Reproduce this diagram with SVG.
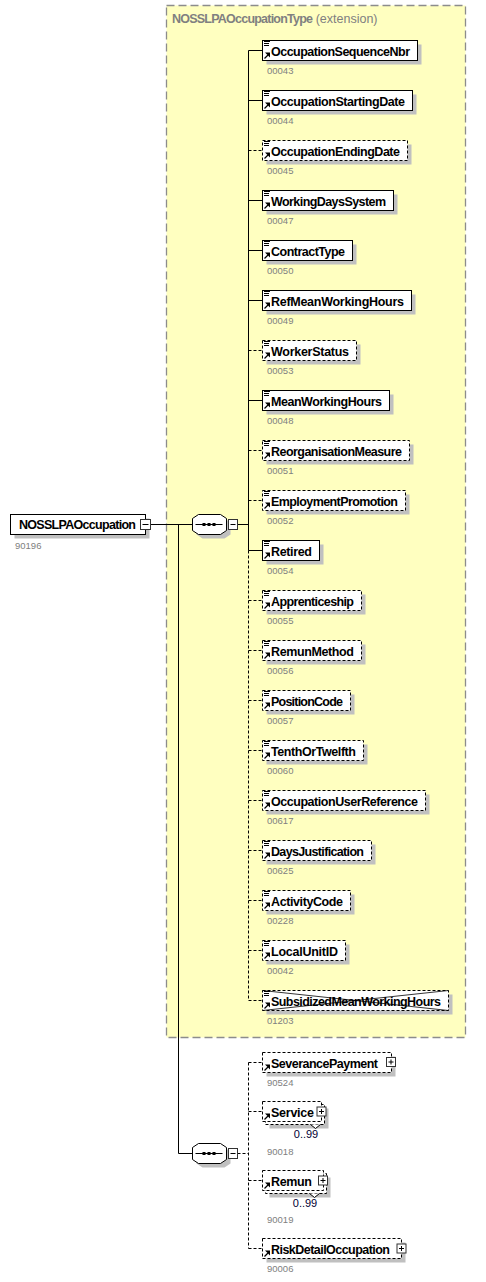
<svg xmlns="http://www.w3.org/2000/svg" xmlns:xlink="http://www.w3.org/1999/xlink" width="486" height="1282" viewBox="0 0 486 1282">
<style>
.bg{fill:#fff}
.ext{fill:#ffffc0;stroke:#8c8c8c;stroke-width:1.3;stroke-dasharray:8,4}
.box{fill:#fff;stroke:#000;stroke-width:1}
.opt{stroke-dasharray:3,2}
.sh{fill:#c0c0c0}
.name{font-family:"Liberation Sans",Arial,sans-serif;font-weight:bold;font-size:12.5px;fill:#000}
.cap{font-family:"Liberation Sans",Arial,sans-serif;font-size:9.5px;fill:#808080}
.card{font-family:"Liberation Sans",Arial,sans-serif;font-size:11px;fill:#000033;text-anchor:middle}
.title{font-family:"Liberation Sans",Arial,sans-serif;font-size:12.5px;fill:#808080}
.ln{stroke:#000;stroke-width:1;fill:none}
.dl{stroke:#000;stroke-width:1;fill:none;stroke-dasharray:3,2}
.pm{fill:#fff;stroke:#333;stroke-width:1}
</style>
<defs>
<g id="icoL"><path d="M1.5,1H7.5M1.5,3H6.5M1.5,5H6.5" stroke="#000" stroke-width="1"/></g>
<g id="icoA"><path d="M2,18 L5.5,14.5" stroke="#000" stroke-width="1.3"/><polygon points="7.5,12 7.5,17 2.5,12" fill="#000"/></g>
<g id="seqInner"><path d="M3,10 H30" stroke="#000" stroke-width="1"/><rect x="10" y="8.5" width="3" height="3" fill="#000"/><rect x="15" y="8.5" width="3" height="3" fill="#000"/><rect x="20" y="8.5" width="3" height="3" fill="#000"/></g>
<polygon id="oct" points="0,4 6,0 28,0 34,4 34,16 28,20 6,20 0,16"/>
</defs>
<rect class="bg" x="0" y="0" width="486" height="1282"/>

<g id="extension">
<rect class="ext" x="166.5" y="5.5" width="299" height="1032"/>
<text class="title" x="172" y="23"><tspan font-weight="bold" textLength="141">NOSSLPAOccupationType</tspan><tspan> (extension)</tspan></text>
</g>

<g id="connectors">
<path class="ln" d="M150.5,524.5 H192.5"/>
<path class="ln" d="M178.5,524.5 V1153.5 H192.5"/>
<path class="ln" d="M226.5,524.5 H228.5 M237.5,524.5 H248.5"/>
<path class="ln" d="M248.5,50.5 V550.5"/>
<path class="dl" d="M248.5,550.5 V1000.5"/>
<path class="ln" d="M248.5,50.5H262.5M248.5,100.5H262.5M248.5,200.5H262.5M248.5,250.5H262.5M248.5,300.5H262.5M248.5,400.5H262.5M248.5,550.5H262.5"/>
<path class="dl" d="M248.5,150.5H262.5M248.5,350.5H262.5M248.5,450.5H262.5M248.5,500.5H262.5M248.5,600.5H262.5M248.5,650.5H262.5M248.5,700.5H262.5M248.5,750.5H262.5M248.5,800.5H262.5M248.5,850.5H262.5M248.5,900.5H262.5M248.5,950.5H262.5M248.5,1000.5H262.5"/>
<path class="ln" d="M226.5,1153.5 H228.5"/>
<path class="dl" d="M237.5,1153.5 H248.5 M248.5,1062.5 V1248.5 M248.5,1062.5H262.5M248.5,1111.5H262.5M248.5,1180.5H262.5M248.5,1248.5H262.5"/>
</g>

<g id="root">
<rect class="sh" x="14.5" y="518.5" width="135" height="20"/>
<rect class="box" x="10.5" y="514.5" width="135" height="20"/>
<text class="name" x="19" y="529" textLength="117">NOSSLPAOccupation</text>
<rect class="pm" x="140.5" y="519.5" width="10" height="10"/>
<path class="ln" d="M142.5,524.5H148.5"/>
<text class="cap" x="15" y="548.5">90196</text>
</g>

<g id="seq1">
<use href="#oct" x="196.5" y="518.5" class="sh"/>
<use href="#oct" x="192.5" y="514.5" fill="#fff" stroke="#000"/>
<use href="#seqInner" x="192.5" y="514.5"/>
<rect class="pm" x="228.5" y="519.5" width="9" height="10"/>
<path class="ln" d="M230.5,524.5H235.5"/>
</g>

<g id="seq2">
<use href="#oct" x="196.5" y="1147.5" class="sh"/>
<use href="#oct" x="192.5" y="1143.5" fill="#fff" stroke="#000"/>
<use href="#seqInner" x="192.5" y="1143.5"/>
<rect class="pm" x="228.5" y="1148.5" width="9" height="10"/>
<path class="ln" d="M230.5,1153.5H235.5"/>
</g>

<g id="e1"><rect class="sh" x="266.5" y="44.5" width="155" height="20"/><rect class="box" x="262.5" y="40.5" width="155" height="20"/><use href="#icoL" x="262.5" y="40.5"/><use href="#icoA" x="262.5" y="40.5"/><text class="name" x="271" y="55.5" textLength="139">OccupationSequenceNbr</text><text class="cap" x="267" y="74">00043</text></g>
<g id="e2"><rect class="sh" x="266.5" y="94.5" width="150" height="20"/><rect class="box" x="262.5" y="90.5" width="150" height="20"/><use href="#icoL" x="262.5" y="90.5"/><use href="#icoA" x="262.5" y="90.5"/><text class="name" x="271" y="105.5" textLength="134">OccupationStartingDate</text><text class="cap" x="267" y="124">00044</text></g>
<g id="e3"><rect class="sh" x="266.5" y="144.5" width="145" height="20"/><rect class="box opt" x="262.5" y="140.5" width="145" height="20"/><use href="#icoL" x="262.5" y="140.5"/><use href="#icoA" x="262.5" y="140.5"/><text class="name" x="271" y="155.5" textLength="129">OccupationEndingDate</text><text class="cap" x="267" y="174">00045</text></g>
<g id="e4"><rect class="sh" x="266.5" y="194.5" width="131" height="20"/><rect class="box" x="262.5" y="190.5" width="131" height="20"/><use href="#icoL" x="262.5" y="190.5"/><use href="#icoA" x="262.5" y="190.5"/><text class="name" x="271" y="205.5" textLength="115">WorkingDaysSystem</text><text class="cap" x="267" y="224">00047</text></g>
<g id="e5"><rect class="sh" x="266.5" y="244.5" width="90" height="20"/><rect class="box" x="262.5" y="240.5" width="90" height="20"/><use href="#icoL" x="262.5" y="240.5"/><use href="#icoA" x="262.5" y="240.5"/><text class="name" x="271" y="255.5" textLength="74">ContractType</text><text class="cap" x="267" y="274">00050</text></g>
<g id="e6"><rect class="sh" x="266.5" y="294.5" width="149" height="20"/><rect class="box" x="262.5" y="290.5" width="149" height="20"/><use href="#icoL" x="262.5" y="290.5"/><use href="#icoA" x="262.5" y="290.5"/><text class="name" x="271" y="305.5" textLength="133">RefMeanWorkingHours</text><text class="cap" x="267" y="324">00049</text></g>
<g id="e7"><rect class="sh" x="266.5" y="344.5" width="94" height="20"/><rect class="box opt" x="262.5" y="340.5" width="94" height="20"/><use href="#icoL" x="262.5" y="340.5"/><use href="#icoA" x="262.5" y="340.5"/><text class="name" x="271" y="355.5" textLength="78">WorkerStatus</text><text class="cap" x="267" y="374">00053</text></g>
<g id="e8"><rect class="sh" x="266.5" y="394.5" width="127" height="20"/><rect class="box" x="262.5" y="390.5" width="127" height="20"/><use href="#icoL" x="262.5" y="390.5"/><use href="#icoA" x="262.5" y="390.5"/><text class="name" x="271" y="405.5" textLength="111">MeanWorkingHours</text><text class="cap" x="267" y="424">00048</text></g>
<g id="e9"><rect class="sh" x="266.5" y="444.5" width="147" height="20"/><rect class="box opt" x="262.5" y="440.5" width="147" height="20"/><use href="#icoL" x="262.5" y="440.5"/><use href="#icoA" x="262.5" y="440.5"/><text class="name" x="271" y="455.5" textLength="131">ReorganisationMeasure</text><text class="cap" x="267" y="474">00051</text></g>
<g id="e10"><rect class="sh" x="266.5" y="494.5" width="143" height="20"/><rect class="box opt" x="262.5" y="490.5" width="143" height="20"/><use href="#icoL" x="262.5" y="490.5"/><use href="#icoA" x="262.5" y="490.5"/><text class="name" x="271" y="505.5" textLength="127">EmploymentPromotion</text><text class="cap" x="267" y="524">00052</text></g>
<g id="e11"><rect class="sh" x="266.5" y="544.5" width="57" height="20"/><rect class="box" x="262.5" y="540.5" width="57" height="20"/><use href="#icoL" x="262.5" y="540.5"/><use href="#icoA" x="262.5" y="540.5"/><text class="name" x="271" y="555.5" textLength="41">Retired</text><text class="cap" x="267" y="574">00054</text></g>
<g id="e12"><rect class="sh" x="266.5" y="594.5" width="99" height="20"/><rect class="box opt" x="262.5" y="590.5" width="99" height="20"/><use href="#icoL" x="262.5" y="590.5"/><use href="#icoA" x="262.5" y="590.5"/><text class="name" x="271" y="605.5" textLength="83">Apprenticeship</text><text class="cap" x="267" y="624">00055</text></g>
<g id="e13"><rect class="sh" x="266.5" y="644.5" width="99" height="20"/><rect class="box opt" x="262.5" y="640.5" width="99" height="20"/><use href="#icoL" x="262.5" y="640.5"/><use href="#icoA" x="262.5" y="640.5"/><text class="name" x="271" y="655.5" textLength="83">RemunMethod</text><text class="cap" x="267" y="674">00056</text></g>
<g id="e14"><rect class="sh" x="266.5" y="694.5" width="88" height="20"/><rect class="box opt" x="262.5" y="690.5" width="88" height="20"/><use href="#icoL" x="262.5" y="690.5"/><use href="#icoA" x="262.5" y="690.5"/><text class="name" x="271" y="705.5" textLength="72">PositionCode</text><text class="cap" x="267" y="724">00057</text></g>
<g id="e15"><rect class="sh" x="266.5" y="744.5" width="101" height="20"/><rect class="box opt" x="262.5" y="740.5" width="101" height="20"/><use href="#icoL" x="262.5" y="740.5"/><use href="#icoA" x="262.5" y="740.5"/><text class="name" x="271" y="755.5" textLength="85">TenthOrTwelfth</text><text class="cap" x="267" y="774">00060</text></g>
<g id="e16"><rect class="sh" x="266.5" y="794.5" width="163" height="20"/><rect class="box opt" x="262.5" y="790.5" width="163" height="20"/><use href="#icoL" x="262.5" y="790.5"/><use href="#icoA" x="262.5" y="790.5"/><text class="name" x="271" y="805.5" textLength="147">OccupationUserReference</text><text class="cap" x="267" y="824">00617</text></g>
<g id="e17"><rect class="sh" x="266.5" y="844.5" width="109" height="20"/><rect class="box opt" x="262.5" y="840.5" width="109" height="20"/><use href="#icoL" x="262.5" y="840.5"/><use href="#icoA" x="262.5" y="840.5"/><text class="name" x="271" y="855.5" textLength="93">DaysJustification</text><text class="cap" x="267" y="874">00625</text></g>
<g id="e18"><rect class="sh" x="266.5" y="894.5" width="88" height="20"/><rect class="box opt" x="262.5" y="890.5" width="88" height="20"/><use href="#icoL" x="262.5" y="890.5"/><use href="#icoA" x="262.5" y="890.5"/><text class="name" x="271" y="905.5" textLength="72">ActivityCode</text><text class="cap" x="267" y="924">00228</text></g>
<g id="e19"><rect class="sh" x="266.5" y="944.5" width="83" height="20"/><rect class="box opt" x="262.5" y="940.5" width="83" height="20"/><use href="#icoL" x="262.5" y="940.5"/><use href="#icoA" x="262.5" y="940.5"/><text class="name" x="271" y="955.5" textLength="67">LocalUnitID</text><text class="cap" x="267" y="974">00042</text></g>
<g id="e20"><rect class="sh" x="266.5" y="994.5" width="186" height="20"/><rect class="box opt" x="262.5" y="990.5" width="186" height="20"/><use href="#icoL" x="262.5" y="990.5"/><use href="#icoA" x="262.5" y="990.5"/><text class="name" x="271" y="1005.5" textLength="170">SubsidizedMeanWorkingHours</text><path d="M262.5,990.5 L448.5,1010.5 M262.5,1010.5 L448.5,990.5" stroke="#000" stroke-width="0.8"/><text class="cap" x="267" y="1024">01203</text></g>

<g id="SeverancePayment"><rect class="sh" x="266.5" y="1056.5" width="129" height="20"/><rect class="box opt" x="262.5" y="1052.5" width="129" height="20"/><use href="#icoA" x="262.5" y="1052.5"/><text class="name" x="271" y="1067.5" textLength="107">SeverancePayment</text><rect class="pm" x="386.5" y="1057.5" width="9" height="9"/><path class="ln" d="M388.5,1062H393.5M391,1059.5V1064.5"/><text class="cap" x="267" y="1086">90524</text></g>

<g id="Service"><rect class="sh" x="269.5" y="1108.5" width="59" height="20"/><rect class="box opt" x="265.5" y="1104.5" width="59" height="20"/><rect class="box opt" x="262.5" y="1101.5" width="59" height="20"/><use href="#icoA" x="262.5" y="1101.5"/><text class="name" x="271" y="1116.5" textLength="43">Service</text><rect class="pm" x="317" y="1107" width="9" height="9"/><path class="ln" d="M319,1111.5H324M321.5,1109V1114"/><path d="M310.5,1124.5 L315.5,1128.5 L320.5,1124.5 Z" fill="#fff"/><path class="ln" d="M310.5,1124.5 L315.5,1128.5 L320.5,1124.5"/><text class="card" x="306" y="1138">0..99</text><text class="cap" x="267" y="1155">90018</text></g>

<g id="Remun"><rect class="sh" x="269.5" y="1177.5" width="61" height="20"/><rect class="box opt" x="265.5" y="1173.5" width="61" height="20"/><rect class="box opt" x="262.5" y="1170.5" width="61" height="20"/><use href="#icoA" x="262.5" y="1170.5"/><text class="name" x="271" y="1185.5" textLength="41">Remun</text><rect class="pm" x="318.5" y="1176" width="9" height="9"/><path class="ln" d="M320.5,1180.5H325.5M323,1178V1183"/><path d="M309.5,1193.5 L314.5,1197.5 L319.5,1193.5 Z" fill="#fff"/><path class="ln" d="M309.5,1193.5 L314.5,1197.5 L319.5,1193.5"/><text class="card" x="305" y="1207">0..99</text><text class="cap" x="267" y="1223">90019</text></g>

<g id="RiskDetailOccupation"><rect class="sh" x="266.5" y="1242.5" width="139" height="20"/><rect class="box opt" x="262.5" y="1238.5" width="139" height="20"/><use href="#icoA" x="262.5" y="1238.5"/><text class="name" x="271" y="1253.5" textLength="119">RiskDetailOccupation</text><rect class="pm" x="397" y="1244" width="9" height="9"/><path class="ln" d="M399,1248.5H404M401.5,1246V1251"/><text class="cap" x="267" y="1272">90006</text></g>
</svg>
